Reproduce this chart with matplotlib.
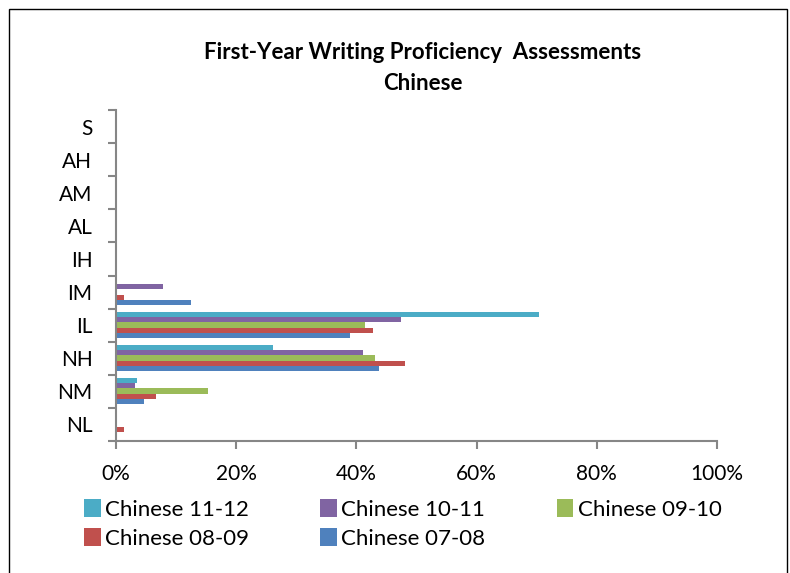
import matplotlib.pyplot as plt
import numpy as np
from matplotlib.patches import Rectangle

# Proficiency levels, bottom to top
levels = ['NL', 'NM', 'NH', 'IL', 'IM', 'IH', 'AL', 'AM', 'AH', 'S']

# Percentages per cohort (same order as levels)
chinese_07_08 = [0, 4.7, 43.7, 39.0, 12.5, 0, 0, 0, 0, 0]
chinese_08_09 = [1.3, 6.6, 48.1, 42.7, 1.3, 0, 0, 0, 0, 0]
chinese_09_10 = [0, 15.3, 43.1, 41.5, 0, 0, 0, 0, 0, 0]
chinese_10_11 = [0, 3.2, 41.1, 47.5, 7.8, 0, 0, 0, 0, 0]
chinese_11_12 = [0, 3.5, 26.1, 70.4, 0, 0, 0, 0, 0, 0]

series = [
    ('Chinese 07-08', chinese_07_08, '#4F81BD'),
    ('Chinese 08-09', chinese_08_09, '#C0504D'),
    ('Chinese 09-10', chinese_09_10, '#9BBB59'),
    ('Chinese 10-11', chinese_10_11, '#8064A2'),
    ('Chinese 11-12', chinese_11_12, '#4BACC6'),
]

plt.rcParams['font.family'] = ['Lato', 'DejaVu Sans']

fig = plt.figure(figsize=(7.9, 5.73), dpi=100)
ax = fig.add_axes([116 / 790, 1 - 440.5 / 573, 601 / 790, 330 / 573])

y = np.arange(len(levels))
h = 0.158
bars = {}
for i, (name, vals, col) in enumerate(series):
    offs = (i - 2) * h
    bars[name] = ax.barh(y + offs, vals, height=h, color=col, label=name)

ax.set_xlim(0, 100)
ax.set_ylim(-0.5, len(levels) - 0.5)
ax.set_xticks(np.arange(0, 101, 20))
ax.set_xticklabels([f'{v}%' for v in range(0, 101, 20)], fontsize=15)
ax.set_yticks(y)
ax.set_yticklabels(levels, fontsize=15)
ax.tick_params(axis='y', length=0, pad=17)
ax.set_yticks(np.arange(-0.5, len(levels), 1), minor=True)
ax.tick_params(axis='y', which='minor', length=6, color='#868686', width=1.5)
ax.tick_params(axis='x', length=6, color='#868686', width=1.5, pad=11)

for s in ['top', 'right']:
    ax.spines[s].set_visible(False)
for s in ['left', 'bottom']:
    ax.spines[s].set_color('#868686')
    ax.spines[s].set_linewidth(1.5)

fig.text(0.535, 1 - 68 / 573, 'First-Year Writing Proficiency  Assessments\nChinese',
         ha='center', va='center', fontsize=16, fontweight='bold', linespacing=1.55)

# legend: row 1 -> 11-12, 10-11, 09-10 ; row 2 -> 08-09, 07-08
order = ['Chinese 11-12', 'Chinese 08-09', 'Chinese 10-11', 'Chinese 07-08', 'Chinese 09-10']
fig.legend([bars[n] for n in order], order, ncol=3, frameon=False,
           loc='upper left', bbox_to_anchor=(84 / 790, 1 - 499 / 573),
           fontsize=16, handlelength=0.75, handleheight=0.9, handletextpad=0.2,
           columnspacing=3.2, labelspacing=0.35, borderaxespad=0, borderpad=0)

# chart border
fig.patches.append(Rectangle((9 / 790, -0.1), 778 / 790, 1.1 - 9 / 573,
                             transform=fig.transFigure, fill=False,
                             edgecolor='black', linewidth=1))

plt.savefig('out.png', dpi=100)
